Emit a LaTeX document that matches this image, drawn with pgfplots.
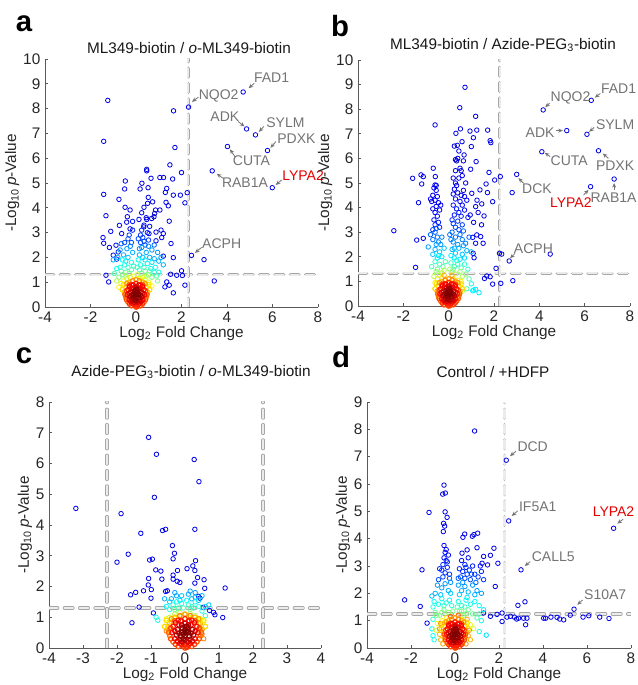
\documentclass[border=0pt]{standalone}
\usepackage{fontspec}
\setmainfont{Liberation Sans}
\usepackage{pgfplots}
\usepackage{pgfplotstable}
\pgfplotsset{compat=1.18}
\usetikzlibrary{arrows.meta}

% shared dense core (red blob near 0)
\pgfplotstableread{
x y c
-0.45 0.80 0.70
-0.50 0.60 0.72
-0.45 0.40 0.75
-0.35 0.20 0.78
-0.20 0.05 0.80
0.00 0.00 0.80
0.20 0.05 0.80
0.35 0.20 0.78
0.45 0.40 0.75
0.50 0.60 0.72
0.45 0.80 0.70
0.30 1.00 0.68
-0.30 1.00 0.68
-0.55 0.90 0.65
0.55 0.90 0.65
-0.60 0.70 0.66
0.60 0.70 0.66
-0.40 0.95 0.72
0.40 0.95 0.72
-0.15 1.05 0.75
0.15 1.05 0.75
0.00 1.10 0.72
-0.48 0.50 0.78
0.48 0.50 0.78
-0.42 0.30 0.80
0.42 0.30 0.80
-0.28 0.12 0.82
0.28 0.12 0.82
-0.42 0.65 0.80
0.42 0.65 0.80
-0.30 0.88 0.80
0.30 0.88 0.80
-0.35 0.70 0.85
-0.38 0.50 0.86
-0.30 0.30 0.87
-0.15 0.15 0.88
0.00 0.10 0.88
0.15 0.15 0.88
0.30 0.30 0.87
0.38 0.50 0.86
0.35 0.70 0.85
0.20 0.90 0.84
-0.20 0.90 0.84
0.00 0.95 0.84
-0.05 0.05 0.82
0.05 0.02 0.82
-0.10 0.12 0.85
0.10 0.10 0.85
-0.30 0.55 0.90
0.30 0.55 0.90
-0.22 0.22 0.90
0.22 0.22 0.90
-0.18 0.75 0.90
0.18 0.75 0.90
-0.12 0.88 0.88
0.12 0.88 0.88
-0.08 0.20 0.92
0.08 0.20 0.92
-0.22 0.60 0.93
-0.25 0.42 0.94
-0.15 0.28 0.94
0.00 0.25 0.95
0.15 0.28 0.94
0.25 0.42 0.94
0.22 0.60 0.93
0.10 0.75 0.92
-0.10 0.75 0.92
0.00 0.80 0.92
-0.28 0.82 0.88
0.28 0.82 0.88
-0.18 0.48 0.96
0.18 0.48 0.96
-0.12 0.38 0.98
0.12 0.38 0.98
-0.08 0.65 0.97
0.08 0.65 0.97
0.00 0.70 0.97
-0.10 0.50 1.00
0.10 0.50 1.00
0.00 0.40 1.00
0.00 0.60 1.00
0.00 0.50 1.00
-0.05 0.45 1.00
0.05 0.55 1.00
-0.05 0.30 0.98
0.05 0.70 0.98
}\core

% panel a
\pgfplotstableread{
x y c
-1.24 8.33 0.1
-1.42 6.68 0.1
-1.42 4.54 0.1
-1.32 3.68 0.1
-1.11 3.05 0.1
-1.45 2.80 0.1
-1.42 2.57 0.1
-1.17 2.40 0.1
-1.32 1.28 0.1
-1.20 1.01 0.1
-0.47 5.08 0.1
-0.50 4.76 0.1
-0.75 4.34 0.1
-0.48 4.02 0.1
-0.26 3.91 0.1
-0.38 3.64 0.1
-0.73 3.29 0.1
-0.41 3.42 0.1
-0.26 3.15 0.1
-0.63 2.96 0.1
-0.88 2.49 0.12
-0.78 2.22 0.15
-1.00 2.09 0.15
-0.85 1.93 0.18
0.18 4.76 0.1
0.26 4.99 0.1
0.47 5.55 0.1
0.47 5.49 0.1
0.66 5.19 0.1
0.53 4.81 0.1
0.54 4.42 0.1
0.51 4.18 0.1
0.35 4.02 0.1
0.73 4.24 0.1
0.69 3.57 0.08
0.82 3.77 0.08
0.86 3.91 0.1
0.79 3.64 0.08
0.47 3.53 0.1
0.13 3.53 0.1
0.34 3.23 0.1
0.57 2.96 0.12
0.88 3.02 0.1
1.10 3.10 0.1
1.20 2.96 0.1
1.13 2.80 0.1
0.88 2.67 0.12
1.05 5.22 0.1
1.21 5.22 0.1
1.49 5.73 0.1
1.65 7.91 0.1
1.71 6.43 0.1
2.00 5.42 0.1
1.61 5.16 0.1
1.35 4.78 0.1
1.29 4.62 0.1
1.64 4.51 0.1
1.95 4.51 0.1
2.25 4.61 0.1
2.15 4.20 0.1
1.32 4.22 0.1
1.42 4.08 0.1
1.05 3.91 0.1
1.46 3.46 0.1
1.54 2.56 0.1
1.64 1.99 0.1
1.20 2.05 0.12
1.52 1.32 0.1
1.79 1.28 0.1
2.00 1.46 0.1
2.04 1.27 0.1
2.15 0.88 0.1
1.64 0.57 0.1
1.46 0.88 0.1
1.35 1.01 0.12
1.27 0.81 0.12
2.44 2.08 0.1
2.99 1.91 0.1
3.44 1.05 0.1
2.31 8.06 0.1
4.71 8.67 0.1
4.86 7.18 0.1
5.25 6.94 0.1
5.78 6.31 0.1
4.02 6.47 0.1
3.35 5.49 0.1
5.99 4.81 0.1
0.45 3.60 0.12
0.25 3.80 0.12
0.60 3.25 0.14
-0.15 3.45 0.14
-0.20 2.60 0.2
0.20 2.60 0.2
0.30 2.80 0.18
0.40 2.50 0.2
-0.30 2.90 0.18
-0.15 3.10 0.16
0.25 3.10 0.16
0.35 3.30 0.15
0.20 2.90 0.18
-0.50 2.60 0.2
0.55 2.70 0.18
0.50 3.00 0.17
-0.65 2.55 0.22
0.35 2.65 0.2
-0.35 2.75 0.2
0.10 2.75 0.2
0.80 2.50 0.22
-0.25 2.45 0.25
0.15 2.35 0.27
0.55 2.45 0.25
-0.80 2.00 0.3
-0.55 2.10 0.3
-0.35 2.00 0.32
-0.15 2.20 0.3
-1.00 1.90 0.3
0.15 2.10 0.3
0.30 2.00 0.32
0.45 2.20 0.3
0.60 2.00 0.3
0.80 1.95 0.3
0.70 2.30 0.28
-0.40 2.35 0.28
0.25 2.40 0.27
1.10 2.00 0.28
-0.70 2.30 0.28
0.95 2.20 0.27
1.00 1.85 0.3
1.20 1.70 0.3
-0.45 1.85 0.36
0.40 1.90 0.35
0.70 1.80 0.35
-0.70 1.60 0.4
-0.50 1.70 0.4
-0.35 1.60 0.42
-0.20 1.80 0.4
-0.85 1.55 0.4
0.20 1.70 0.4
0.35 1.60 0.42
0.50 1.75 0.4
0.65 1.55 0.4
0.85 1.60 0.38
0.10 1.90 0.38
-0.60 1.90 0.38
1.00 1.40 0.4
0.90 1.25 0.45
-0.95 1.35 0.45
-0.65 1.45 0.45
0.60 1.45 0.45
0.80 1.40 0.42
-0.10 1.65 0.42
0.05 1.60 0.42
-0.60 1.30 0.5
-0.45 1.40 0.48
-0.30 1.35 0.5
-0.75 1.20 0.5
0.25 1.35 0.5
0.40 1.45 0.48
0.55 1.30 0.5
0.70 1.20 0.5
-0.20 1.50 0.47
0.15 1.50 0.47
0.95 1.05 0.5
-0.85 1.05 0.55
-0.45 1.25 0.55
0.45 1.25 0.55
-0.10 1.25 0.6
0.05 1.30 0.58
-0.55 1.05 0.6
-0.40 1.15 0.58
-0.65 0.95 0.62
0.40 1.10 0.6
0.55 1.00 0.6
0.30 1.20 0.58
-0.25 1.20 0.6
0.20 1.15 0.62
0.70 0.85 0.62
-0.75 0.80 0.64
}\tabA

% panel b
\pgfplotstableread{
x y c
-2.42 3.06 0.1
-1.59 5.19 0.1
-1.22 5.33 0.1
-1.12 5.26 0.1
-1.19 4.96 0.1
-1.33 4.20 0.1
-1.41 2.68 0.1
-1.12 2.75 0.1
-1.46 1.57 0.1
-0.60 7.36 0.1
-0.68 5.60 0.1
-0.59 5.26 0.1
-0.60 4.92 0.1
0.72 8.89 0.1
0.49 8.06 0.1
1.19 7.71 0.1
0.52 7.20 0.1
0.94 7.11 0.1
1.24 7.15 0.1
1.72 7.15 0.1
0.32 7.02 0.1
0.59 6.68 0.1
1.09 6.84 0.1
1.83 6.72 0.1
1.86 6.64 0.1
1.00 6.48 0.1
0.38 6.53 0.1
0.68 6.14 0.1
1.21 5.87 0.1
1.78 5.43 0.1
0.97 5.56 0.1
2.03 5.12 0.1
2.28 5.26 0.1
1.38 4.72 0.1
1.71 4.61 0.1
1.65 4.96 0.1
1.94 4.24 0.1
1.46 4.15 0.1
1.56 3.66 0.1
1.02 4.58 0.1
1.19 4.04 0.1
1.30 3.80 0.1
1.10 3.40 0.1
1.45 3.30 0.1
0.95 3.70 0.1
1.25 4.30 0.1
1.24 2.89 0.1
1.06 2.79 0.1
1.19 2.55 0.1
1.41 2.82 0.1
1.52 2.55 0.1
1.08 2.14 0.1
1.12 1.96 0.1
2.34 2.11 0.1
2.24 2.14 0.1
2.67 1.83 0.1
2.83 1.03 0.1
2.09 1.53 0.1
2.30 0.92 0.1
1.94 0.89 0.1
1.83 1.19 0.1
1.58 1.12 0.1
1.68 1.22 0.1
4.48 2.11 0.1
3.00 5.35 0.1
2.80 4.61 0.1
4.17 7.97 0.1
6.29 8.36 0.1
5.21 7.13 0.1
6.10 6.98 0.1
4.11 6.27 0.1
6.61 6.31 0.1
7.30 5.16 0.1
6.26 4.85 0.1
-0.65 4.80 0.12
-0.55 4.70 0.12
-0.70 4.50 0.12
-0.50 4.45 0.12
-0.60 4.30 0.12
-0.75 4.25 0.12
-0.45 4.20 0.12
-0.55 4.05 0.12
-0.70 3.95 0.12
-0.40 3.90 0.12
-0.60 3.80 0.12
-0.50 3.65 0.14
-0.65 3.50 0.14
-0.45 3.40 0.15
-0.55 4.90 0.12
-0.80 4.35 0.12
-0.35 4.10 0.12
-0.60 3.30 0.16
-0.40 3.20 0.17
-0.70 3.10 0.18
0.25 6.50 0.08
0.30 5.95 0.08
0.35 5.90 0.08
0.40 6.00 0.1
0.55 5.50 0.1
0.60 5.30 0.1
0.50 5.60 0.1
0.45 5.20 0.1
0.30 5.00 0.1
0.35 4.90 0.1
0.25 4.75 0.1
0.40 4.60 0.1
0.55 4.50 0.1
0.65 4.70 0.1
0.70 4.45 0.1
0.20 4.55 0.12
0.30 4.35 0.12
0.50 4.25 0.12
0.60 4.10 0.12
0.20 4.10 0.14
0.35 3.95 0.14
0.45 3.80 0.15
0.25 3.70 0.15
0.55 3.65 0.15
0.15 3.50 0.17
0.40 3.45 0.17
0.70 3.90 0.13
0.80 4.30 0.12
0.75 5.00 0.1
0.65 5.90 0.1
0.45 6.30 0.1
0.30 5.50 0.1
0.20 5.20 0.1
0.85 3.60 0.15
0.30 3.20 0.2
0.60 3.30 0.18
0.45 3.10 0.2
-0.55 3.15 0.2
0.20 3.35 0.18
-0.60 3.00 0.22
-0.50 2.80 0.24
-0.70 2.70 0.24
-0.45 2.60 0.26
-0.80 2.90 0.22
-0.35 2.50 0.27
0.15 3.00 0.22
0.30 2.80 0.24
0.50 2.90 0.23
0.65 3.05 0.22
0.20 2.60 0.26
0.40 2.50 0.27
0.60 2.70 0.25
0.75 2.55 0.25
0.90 2.80 0.22
0.10 2.70 0.25
-0.30 2.80 0.25
0.05 2.90 0.24
0.65 2.45 0.28
-0.55 2.50 0.28
-0.20 2.35 0.32
0.25 2.35 0.3
-0.60 2.30 0.3
-0.40 2.20 0.32
-0.70 2.10 0.32
-0.30 2.00 0.34
-0.90 2.40 0.28
-0.50 1.95 0.35
0.15 2.30 0.31
0.30 2.15 0.32
0.45 2.35 0.3
0.60 2.10 0.32
0.80 2.25 0.3
0.25 1.95 0.35
0.50 1.90 0.35
1.00 2.20 0.3
0.70 1.95 0.34
-0.45 2.05 0.36
0.10 2.05 0.36
-0.15 1.80 0.45
0.35 1.85 0.4
-0.60 1.80 0.42
-0.40 1.70 0.44
-0.25 1.60 0.46
-0.75 1.60 0.44
-0.50 1.50 0.47
0.10 1.75 0.43
0.25 1.60 0.45
0.40 1.70 0.43
0.55 1.55 0.45
0.70 1.70 0.42
0.85 1.50 0.42
0.20 1.50 0.47
-0.20 1.45 0.55
0.05 1.50 0.52
-0.55 1.40 0.53
-0.30 1.35 0.55
-0.65 1.20 0.56
-0.40 1.25 0.57
0.15 1.40 0.53
0.30 1.30 0.55
0.50 1.40 0.52
0.60 1.20 0.55
0.75 1.30 0.5
0.90 1.10 0.45
1.00 0.90 0.4
0.80 0.70 0.45
0.60 0.60 0.55
1.10 0.65 0.38
1.34 0.54 0.35
1.19 0.68 0.35
1.06 0.62 0.37
-0.50 1.10 0.65
-0.30 1.15 0.66
0.20 1.10 0.66
0.40 1.05 0.65
0.55 1.00 0.64
-0.60 0.95 0.64
-0.20 1.25 0.7
0.15 1.25 0.7
}\tabB

% panel c
\pgfplotstableread{
x y c
-3.21 4.54 0.1
-1.88 4.37 0.1
-2.00 2.79 0.1
-1.67 3.05 0.1
-1.30 3.73 0.1
-1.07 6.85 0.1
-0.84 6.30 0.1
-0.90 4.90 0.1
-0.66 3.82 0.1
-0.57 3.86 0.1
-0.37 3.33 0.1
-0.31 3.08 0.1
-0.35 2.90 0.1
-1.04 2.86 0.1
-0.96 2.89 0.1
-0.86 2.54 0.1
-0.71 2.50 0.1
-0.22 2.52 0.1
-1.07 2.26 0.1
-1.08 2.05 0.1
-0.99 1.90 0.1
-0.68 2.24 0.1
-0.35 2.37 0.1
-0.35 2.24 0.1
-0.23 2.17 0.1
-0.15 2.13 0.1
-0.57 1.84 0.12
-0.52 1.86 0.1
-1.22 1.86 0.1
-1.45 1.81 0.1
-1.60 1.73 0.1
-1.00 1.62 0.1
-1.35 1.33 0.1
-0.93 1.14 0.1
-1.56 0.82 0.1
0.27 6.13 0.1
0.41 5.41 0.1
0.29 3.86 0.1
0.31 2.84 0.1
0.23 2.67 0.1
0.06 2.58 0.1
0.29 2.52 0.1
0.37 2.29 0.1
0.56 2.22 0.1
0.58 1.94 0.1
0.29 2.11 0.1
1.18 1.95 0.1
0.40 1.68 0.12
0.44 1.62 0.12
1.11 0.99 0.1
0.84 1.16 0.12
0.88 1.08 0.12
0.72 1.22 0.15
0.53 1.32 0.15
-0.60 1.60 0.3
0.50 1.70 0.3
0.30 1.65 0.32
-0.10 1.70 0.32
-0.40 1.60 0.3
-0.25 1.70 0.3
-0.15 1.55 0.32
0.10 1.75 0.3
0.20 1.60 0.3
0.30 1.80 0.28
0.15 1.85 0.28
-0.30 1.80 0.28
0.40 1.55 0.32
-0.45 1.50 0.32
0.60 1.35 0.35
0.70 1.40 0.33
-0.55 1.35 0.38
-0.25 1.50 0.38
0.30 1.50 0.38
0.05 1.55 0.38
-0.35 1.40 0.42
-0.20 1.30 0.44
-0.45 1.25 0.42
0.10 1.40 0.42
0.25 1.30 0.44
0.40 1.35 0.42
0.50 1.20 0.42
-0.10 1.45 0.4
0.60 1.05 0.42
-0.80 0.90 0.4
-0.85 1.00 0.4
0.20 1.35 0.42
-0.05 1.30 0.45
0.15 1.25 0.47
-0.30 1.25 0.47
-0.30 1.10 0.55
-0.15 1.15 0.55
0.15 1.12 0.55
0.30 1.05 0.55
0.45 0.95 0.58
-0.45 1.00 0.56
-0.55 0.95 0.6
0.55 0.85 0.62
-0.10 1.05 0.62
0.10 1.00 0.64
0.35 0.95 0.62
-0.30 0.95 0.62
-0.50 0.70 0.7
-0.55 0.55 0.75
0.45 0.60 0.72
0.50 0.45 0.78
0.55 0.30 0.75
0.40 0.80 0.68
-0.40 0.85 0.66
}\tabC

% panel d
\pgfplotstableread{
x y c
0.89 7.94 0.1
2.33 6.87 0.1
2.44 4.65 0.1
3.00 2.86 0.1
7.21 4.38 0.1
5.41 1.42 0.1
-0.50 5.96 0.1
-0.56 5.63 0.1
-0.44 5.67 0.1
-1.18 4.96 0.1
-0.45 4.98 0.1
-0.36 4.78 0.1
-0.52 4.56 0.1
-0.47 4.46 0.1
-0.53 4.26 0.1
-2.29 1.76 0.1
-1.50 2.86 0.1
-1.58 1.52 0.1
-1.27 0.91 0.1
0.79 4.09 0.1
0.86 4.15 0.1
1.03 4.20 0.1
0.44 4.17 0.1
0.36 4.05 0.1
1.00 3.67 0.1
1.77 3.65 0.1
1.61 3.39 0.1
0.55 3.59 0.1
0.32 3.47 0.1
1.30 3.35 0.1
1.23 3.10 0.1
1.95 3.10 0.1
1.48 3.04 0.1
1.83 2.25 0.1
2.86 1.56 0.1
3.18 1.69 0.1
3.21 0.85 0.1
2.80 1.06 0.1
1.91 1.23 0.1
2.14 1.28 0.1
2.36 1.13 0.1
2.52 1.16 0.1
2.70 1.13 0.1
2.89 1.09 0.1
3.12 1.09 0.1
3.27 1.09 0.1
4.03 1.09 0.1
4.12 1.09 0.1
4.36 1.13 0.1
4.64 1.12 0.1
4.76 1.06 0.1
4.94 1.03 0.1
5.24 1.20 0.1
5.82 1.13 0.1
6.08 1.18 0.1
6.58 1.13 0.1
7.00 1.08 0.1
1.30 1.28 0.1
1.61 1.16 0.1
2.14 0.97 0.1
1.42 0.47 0.35
-0.45 3.50 0.14
-0.50 3.30 0.15
-0.40 3.20 0.15
-0.55 3.05 0.16
-0.35 2.95 0.16
-0.60 2.85 0.17
-0.45 2.75 0.17
-0.70 2.90 0.16
-0.30 3.40 0.14
-0.50 3.75 0.12
-0.40 3.60 0.13
-0.25 2.70 0.18
-0.55 2.60 0.19
-0.75 2.50 0.2
-0.35 3.15 0.16
0.45 3.05 0.16
1.20 2.80 0.16
0.20 2.90 0.16
0.35 2.80 0.17
0.50 2.95 0.16
0.65 2.85 0.17
0.80 3.00 0.15
0.30 3.20 0.14
0.60 3.30 0.14
0.90 2.70 0.18
1.05 2.60 0.18
0.45 2.55 0.19
0.70 2.50 0.2
1.15 3.00 0.14
0.25 2.60 0.2
1.30 2.50 0.18
0.75 2.70 0.19
0.55 2.70 0.2
-0.25 2.55 0.22
0.15 2.55 0.22
0.95 2.40 0.22
-0.80 2.30 0.28
-0.60 2.20 0.28
-0.45 2.35 0.27
-0.30 2.10 0.3
-0.90 2.00 0.3
-0.65 1.95 0.31
-0.20 2.40 0.27
0.15 2.30 0.28
0.30 2.10 0.3
0.45 2.25 0.28
0.60 2.05 0.3
0.80 2.30 0.27
1.00 2.10 0.28
0.35 2.40 0.27
1.20 2.00 0.28
-1.05 1.90 0.3
0.90 1.95 0.3
-0.20 2.00 0.33
0.20 1.95 0.33
0.55 1.85 0.36
-0.95 1.70 0.38
-0.75 1.60 0.4
-0.60 1.80 0.38
-0.40 1.65 0.4
-0.25 1.75 0.38
-1.00 1.50 0.4
0.15 1.70 0.4
0.30 1.55 0.42
0.50 1.75 0.38
0.70 1.60 0.4
0.90 1.70 0.38
1.10 1.55 0.38
-0.15 1.55 0.42
1.30 1.40 0.36
-0.50 1.55 0.42
0.45 1.50 0.43
0.10 1.50 0.44
1.10 1.25 0.45
-0.90 1.30 0.48
-0.70 1.20 0.5
-0.50 1.40 0.48
-0.30 1.30 0.52
0.20 1.35 0.5
0.40 1.20 0.52
0.60 1.40 0.48
0.80 1.25 0.48
1.00 1.10 0.45
-1.00 1.05 0.42
1.20 1.00 0.4
-0.60 1.30 0.5
0.50 1.25 0.5
-0.10 1.35 0.5
0.30 1.35 0.5
-0.85 1.20 0.5
-1.05 0.70 0.38
-1.00 0.45 0.38
-0.95 0.30 0.4
1.10 0.60 0.4
-0.80 0.90 0.6
-0.60 1.00 0.62
0.50 0.95 0.62
0.70 0.85 0.6
0.85 0.70 0.58
-0.85 0.65 0.58
0.30 1.05 0.64
-0.40 1.10 0.64
-0.70 0.50 0.7
-0.65 0.30 0.7
0.60 0.45 0.72
0.70 0.30 0.7
-0.55 0.15 0.72
0.50 0.15 0.74
-0.65 0.90 0.74
0.55 1.05 0.72
-0.70 0.70 0.74
0.65 0.65 0.74
-0.20 1.15 0.78
0.15 1.20 0.78
}\tabD

\pgfplotsset{
  volcano/.style={
    scale only axis, anchor=south west,
    axis x line*=bottom, axis y line*=left,
    axis line style={black!65, line width=0.7pt, -},
    every outer x axis line/.append style={-},
    every outer y axis line/.append style={-},
    tick align=inside, major tick length=2.5pt,
    tick style={black!65, line width=0.6pt},
    ticklabel style={font=\fontsize{11.5}{13}\selectfont, text=black!85},
    /pgf/number format/assume math mode=true,
    label style={font=\fontsize{11.5}{13}\selectfont, text=black!85},
    xlabel={Log\textsubscript{2} Fold Change},
    ylabel={-Log\textsubscript{10}\,\textit{p}-Value},
    xlabel style={yshift=4pt},
    ylabel style={yshift=-4pt},
    colormap/jet, point meta min=0, point meta max=1,
    clip mode=individual, ymin=0,
  },
  pts/.style={scatter, only marks, mark=o, mark size=1.7pt, line width=0.6pt,
    scatter src=explicit, scatter/use mapped color={draw=mapped color}},
  corepts/.style={pts, line width=0.9pt},
  cut/.style={draw=black!35, double=black!8, double distance=1.6pt, line width=0.5pt,
    line cap=round, dash pattern=on 6.5pt off 5pt, forget plot, mark=none},
}
\tikzset{
  ann/.style={draw=black!55, line width=0.6pt, -{Stealth[length=3.5pt,width=3pt]}},
  lab/.style={font=\fontsize{10.5}{12}\selectfont, text=black!55, inner sep=0pt},
  ttl/.style={font=\fontsize{11.5}{13}\selectfont, text=black!90},
  pan/.style={font=\fontsize{22}{24}\selectfont\bfseries},
}

\begin{document}
\begin{tikzpicture}
\useasboundingbox (0,0) rectangle (477.75pt,513.75pt);

% ---------- a ----------
\begin{axis}[volcano, at={(33.75pt,283.5pt)}, width=204.75pt, height=186pt,
  xmin=-4, xmax=8, ymax=10, xtick={-4,-2,...,8}, ytick={0,1,...,10}]
\addplot[cut] coordinates {(-4,1.3) (8,1.3)};
\addplot[cut] coordinates {(2.3,0) (2.3,10)};
\addplot[pts] table[meta=c] {\tabA};
\addplot[corepts] table[meta=c] {\core};
\draw[ann] (axis cs:5.2,9.02) -- (axis cs:4.95,8.82);
\node[lab, anchor=west] at (axis cs:5.18,9.25) {FAD1};
\draw[ann] (axis cs:2.74,8.46) -- (axis cs:2.46,8.27);
\node[lab, anchor=west] at (axis cs:2.75,8.53) {NQO2};
\draw[ann] (axis cs:4.49,7.48) -- (axis cs:4.77,7.28);
\node[lab, anchor=east] at (axis cs:4.55,7.68) {ADK};
\draw[ann] (axis cs:5.62,7.28) -- (axis cs:5.40,7.06);
\node[lab, anchor=west] at (axis cs:5.72,7.45) {SYLM};
\draw[ann] (axis cs:6.15,6.67) -- (axis cs:5.91,6.42);
\node[lab, anchor=west] at (axis cs:6.2,6.8) {PDXK};
\draw[ann] (axis cs:4.35,6.06) -- (axis cs:4.13,6.36);
\node[lab, anchor=west] at (axis cs:4.25,5.89) {CUTA};
\draw[ann] (axis cs:3.83,5.19) -- (axis cs:3.55,5.37);
\node[lab, anchor=west] at (axis cs:3.77,5.01) {RAB1A};
\draw[ann] (axis cs:6.4,5.12) -- (axis cs:6.14,4.92);
\node[lab, anchor=west, text=red!90!black] at (axis cs:6.42,5.3) {LYPA2};
\draw[ann] (axis cs:2.88,2.4) -- (axis cs:2.59,2.18);
\node[lab, anchor=west] at (axis cs:2.9,2.56) {ACPH};
\end{axis}

% ---------- b ----------
\begin{axis}[volcano, at={(268.5pt,284.25pt)}, width=204pt, height=184.5pt,
  xmin=-4, xmax=8, ymax=10, xtick={-4,-2,...,8}, ytick={0,1,...,10}]
\addplot[cut] coordinates {(-4,1.33) (8,1.33)};
\addplot[cut] coordinates {(2.25,0) (2.25,10)};
\addplot[pts] table[meta=c] {\tabB};
\addplot[corepts] table[meta=c] {\core};
\draw[ann] (axis cs:6.69,8.64) -- (axis cs:6.45,8.47);
\node[lab, anchor=west] at (axis cs:6.71,8.85) {FAD1};
\draw[ann] (axis cs:4.45,8.24) -- (axis cs:4.26,8.08);
\node[lab, anchor=west] at (axis cs:4.49,8.44) {NQO2};
\draw[ann] (axis cs:4.74,7.13) -- (axis cs:5.04,7.13);
\node[lab, anchor=east] at (axis cs:4.68,7.06) {ADK};
\draw[ann] (axis cs:6.42,7.26) -- (axis cs:6.2,7.08);
\node[lab, anchor=west] at (axis cs:6.49,7.36) {SYLM};
\draw[ann] (axis cs:4.48,6.07) -- (axis cs:4.24,6.23);
\node[lab, anchor=west] at (axis cs:4.49,5.89) {CUTA};
\draw[ann] (axis cs:7.05,6.0) -- (axis cs:6.8,6.2);
\node[lab, anchor=west] at (axis cs:6.49,5.69) {PDXK};
\draw[ann] (axis cs:3.3,4.99) -- (axis cs:3.08,5.2);
\node[lab, anchor=west] at (axis cs:3.23,4.76) {DCK};
\draw[ann] (axis cs:5.95,4.51) -- (axis cs:6.17,4.72);
\node[lab, anchor=west, text=red!90!black] at (axis cs:4.46,4.2) {LYPA2};
\draw[ann] (axis cs:7.3,4.72) -- (axis cs:7.3,5.0);
\node[lab, anchor=west] at (axis cs:6.25,4.42) {RAB1A};
\draw[ann] (axis cs:2.93,2.14) -- (axis cs:2.71,1.94);
\node[lab, anchor=west] at (axis cs:2.87,2.34) {ACPH};
\end{axis}

% ---------- c ----------
\begin{axis}[volcano, at={(36.75pt,27.75pt)}, width=204pt, height=184.5pt,
  xmin=-4, xmax=4, ymax=8, xtick={-4,-3,...,4}, ytick={0,1,...,8}]
\addplot[cut] coordinates {(-4,1.3) (4,1.3)};
\addplot[cut] coordinates {(-2.3,0) (-2.3,8)};
\addplot[cut] coordinates {(2.3,0) (2.3,8)};
\addplot[pts] table[meta=c] {\tabC};
\addplot[corepts] table[meta=c] {\core};
\end{axis}

% ---------- d ----------
\begin{axis}[volcano, at={(275.25pt,27.75pt)}, width=198pt, height=184.5pt,
  xmin=-4, xmax=8, ymax=9, xtick={-4,-2,...,8}, ytick={0,1,...,9}]
\addplot[cut] coordinates {(-4,1.25) (8,1.25)};
\addplot[cut] coordinates {(2.25,0) (2.25,9)};
\addplot[pts] table[meta=c] {\tabD};
\addplot[corepts] table[meta=c] {\core};
\draw[ann] (axis cs:2.77,7.2) -- (axis cs:2.5,7.02);
\node[lab, anchor=west] at (axis cs:2.83,7.38) {DCD};
\draw[ann] (axis cs:2.85,5.02) -- (axis cs:2.58,4.83);
\node[lab, anchor=west] at (axis cs:2.9,5.17) {IF5A1};
\draw[ann] (axis cs:3.42,3.16) -- (axis cs:3.17,3.0);
\node[lab, anchor=west] at (axis cs:3.48,3.35) {CALL5};
\draw[ann] (axis cs:5.8,1.76) -- (axis cs:5.56,1.58);
\node[lab, anchor=west] at (axis cs:5.86,1.95) {S10A7};
\draw[ann] (axis cs:7.64,4.71) -- (axis cs:7.38,4.55);
\node[lab, anchor=west, text=red!90!black] at (axis cs:6.25,4.99) {LYPA2};
\end{axis}

% titles and panel letters
\node[ttl] at (141.75pt,477.75pt) {ML349-biotin / \textit{o}-ML349-biotin};
\node[ttl] at (377.25pt,480pt) {ML349-biotin / Azide-PEG\textsubscript{3}-biotin};
\node[ttl] at (143.25pt,234.75pt) {Azide-PEG\textsubscript{3}-biotin / \textit{o}-ML349-biotin};
\node[ttl] at (369.75pt,234.75pt) {Control / +HDFP};
\node[pan] at (18pt,495.75pt) {a};
\node[pan] at (255pt,494.25pt) {b};
\node[pan] at (18pt,246.75pt) {c};
\node[pan] at (255.75pt,246pt) {d};
\end{tikzpicture}
\end{document}
